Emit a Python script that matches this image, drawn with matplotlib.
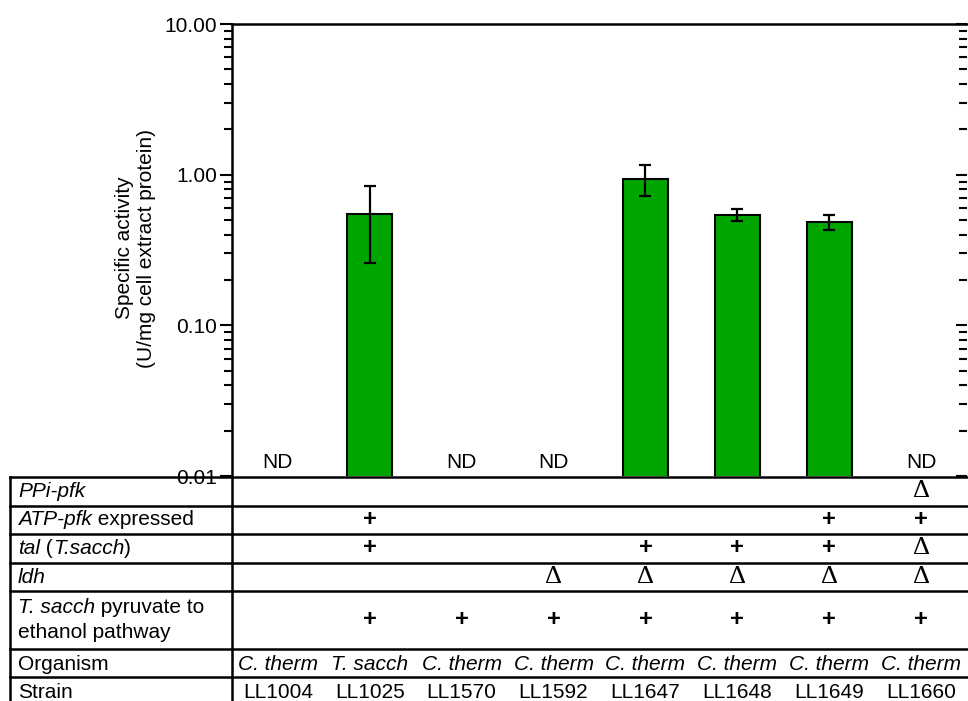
import matplotlib.pyplot as plt
from matplotlib.lines import Line2D
from matplotlib.ticker import LogLocator, NullFormatter, FuncFormatter
import numpy as np

plt.rcParams['font.family'] = ['Liberation Sans', 'DejaVu Sans']
FS = 15

strains = ['LL1004', 'LL1025', 'LL1570', 'LL1592', 'LL1647', 'LL1648', 'LL1649', 'LL1660']
organisms = ['C. therm', 'T. sacch', 'C. therm', 'C. therm', 'C. therm', 'C. therm', 'C. therm', 'C. therm']
activity = [np.nan, 0.55, np.nan, np.nan, 0.94, 0.54, 0.485, np.nan]
act_err = [0, 0.29, 0, 0, 0.22, 0.05, 0.055, 0]
ppi_pfk = ['', '', '', '', '', '', '', 'Δ']
atp_pfk = ['', '+', '', '', '', '', '+', '+']
tal = ['', '+', '', '', '+', '+', '+', 'Δ']
ldh = ['', '', '', 'Δ', 'Δ', 'Δ', 'Δ', 'Δ']
pathway = ['', '+', '+', '+', '+', '+', '+', '+']

W, H = 968, 701
fig = plt.figure(figsize=(W / 100, H / 100), dpi=100)

# pixel layout
left, right, top, bottom = 232, 967, 24, 476
ax = fig.add_axes([left / W, (H - bottom) / H, (right - left) / W, (bottom - top) / H])

x = np.arange(len(strains))
act = np.array(activity)
err = np.array(act_err)
ok = ~np.isnan(act)

ax.set_yscale('log')
ax.bar(x[ok], act[ok], width=0.49, bottom=1e-3, color='#00a600', edgecolor='black', linewidth=1.5, zorder=2)
ax.errorbar(x[ok], act[ok], yerr=err[ok], fmt='none', ecolor='black', elinewidth=1.6,
            capsize=4.5, capthick=1.6, zorder=3)
for i in x[~ok]:
    ax.text(i, 0.008, 'ND', transform=ax.get_xaxis_transform(), ha='center', va='bottom', fontsize=FS)

ax.set_xlim(-0.5, 7.5)
ax.set_ylim(0.01, 10)
ax.set_xticks([])
ax.yaxis.set_major_locator(LogLocator(base=10, numticks=10))
ax.yaxis.set_minor_locator(LogLocator(base=10, subs=np.arange(2, 10), numticks=20))
ax.yaxis.set_minor_formatter(NullFormatter())
ax.yaxis.set_major_formatter(FuncFormatter(lambda v, p: '%.2f' % v))
ax.tick_params(axis='y', which='major', length=9, width=1.5, direction='out', labelsize=FS, pad=1.5)
ax.tick_params(axis='y', which='minor', length=6, width=1.5, direction='out')
ax.spines['bottom'].set_visible(False)
ax.spines['right'].set_visible(False)
ax.spines['left'].set_linewidth(1.8)
ax.spines['top'].set_linewidth(1.8)

ax2 = ax.twinx()
ax2.set_yscale('log')
ax2.set_ylim(0.01, 10)
ax2.yaxis.set_minor_locator(LogLocator(base=10, subs=np.arange(2, 10), numticks=20))
ax2.yaxis.set_minor_formatter(NullFormatter())
ax2.tick_params(axis='y', which='major', length=8, width=1.5, direction='in', labelright=False)
ax2.tick_params(axis='y', which='minor', length=6, width=1.5, direction='in')
for s in ax2.spines.values():
    s.set_visible(False)

fig.text(135 / W, 1 - 248 / H, 'Specific activity\n(U/mg cell extract protein)', rotation=90,
         ha='center', va='center', multialignment='center', fontsize=FS)

# table under the bars
row_h = 28.6
tab = fig.add_axes([left / W, 0, (right - left) / W, (H - bottom - 1) / H])
tab.set_xlim(-0.5, 7.5)
tab.set_ylim((H - bottom - 1) / row_h, 0)
tab.axis('off')
xl = (10 - left) / (right - left)
xt = (18 - left) / (right - left)

bounds = [0, 1, 2, 3, 4, 6, 7]
for b in bounds:
    tab.add_line(Line2D([xl, 1.02], [b, b], transform=tab.get_yaxis_transform(), color='black',
                        linewidth=1.8, clip_on=False))
for xv in [xl, 0]:
    tab.add_line(Line2D([xv, xv], [0, 9], transform=tab.get_yaxis_transform(), color='black',
                        linewidth=1.8, clip_on=False))


def rich(y, parts):
    t = tab.text(xt, y, parts[0][0], style=parts[0][1], transform=tab.get_yaxis_transform(),
                 ha='left', va='center', fontsize=FS)
    for s, st in parts[1:]:
        t = tab.annotate(s, xy=(1, 0), xycoords=t, ha='left', va='bottom', style=st, fontsize=FS)


rich(0.5, [('PPi-pfk', 'italic')])
rich(1.5, [('ATP-pfk', 'italic'), (' expressed', 'normal')])
rich(2.5, [('tal', 'italic'), (' (', 'normal'), ('T.sacch', 'italic'), (')', 'normal')])
rich(3.5, [('ldh', 'italic')])
rich(4.55, [('T. sacch', 'italic'), (' pyruvate to', 'normal')])
rich(5.45, [('ethanol pathway', 'normal')])
rich(6.55, [('Organism', 'normal')])
rich(7.55, [('Strain', 'normal')])

rows = [(0.5, ppi_pfk), (1.5, atp_pfk), (2.5, tal), (3.5, ldh), (5.0, pathway)]
for y, vals in rows:
    for i, v in enumerate(vals):
        if v == '+':
            tab.text(i, y - 0.03, v, ha='center', va='center', fontsize=FS + 2, fontweight='bold')
        elif v:
            tab.text(i, y, v, ha='center', va='center', fontsize=FS + 4, family='Liberation Serif')
for i, o in enumerate(organisms):
    tab.text(i, 6.55, o, ha='center', va='center', fontsize=FS, style='italic')
for i, s in enumerate(strains):
    tab.text(i, 7.55, s, ha='center', va='center', fontsize=FS)

fig.savefig('out.png', dpi=100)
